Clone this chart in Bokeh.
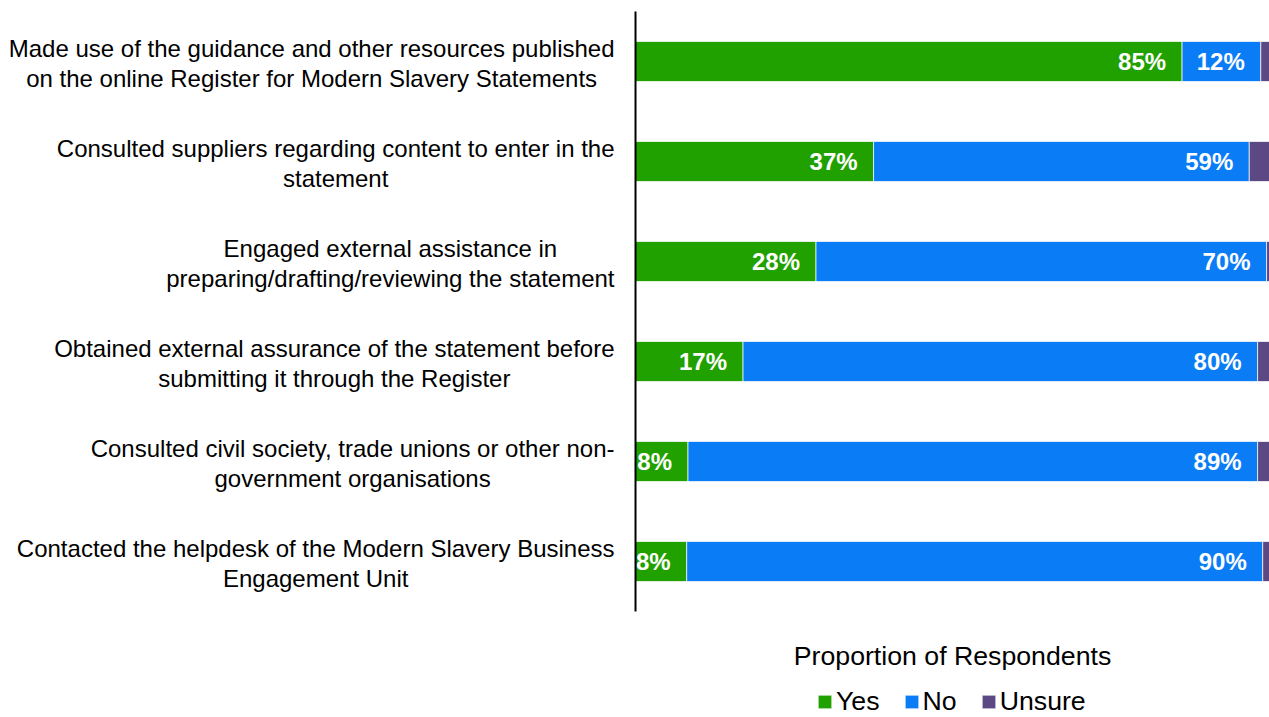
from bokeh.plotting import figure
from bokeh.models import ColumnDataSource, Range1d, Legend, LegendItem, Label
from bokeh.embed import file_html
from bokeh.resources import INLINE
from bokeh.core.properties import value

categories = [
    "Made use of the guidance and other resources published\non the online Register for Modern Slavery Statements",
    "Consulted suppliers regarding content to enter in the\nstatement",
    "Engaged external assistance in\npreparing/drafting/reviewing the statement",
    "Obtained external assurance of the statement before\nsubmitting it through the Register",
    "Consulted civil society, trade unions or other non-\ngovernment organisations",
    "Contacted the helpdesk of the Modern Slavery Business\nEngagement Unit",
]
series_names = ["Yes", "No", "Unsure"]
yes = [85.4, 37.2, 28.2, 16.8, 8.2, 8.0]
no = [12.3, 58.7, 70.4, 80.4, 89.0, 90.0]
unsure = [2.3, 4.1, 1.4, 2.8, 2.8, 2.0]
colors = ["#21A100", "#0A7CF5", "#5C4882"]
x_title = "Proportion of Respondents"

FONT = "Liberation Sans"
X_END = 99.06      # visible end of the percentage axis (chart is cropped on the right)
X_START = -99.22   # room on the left for the category labels
n = len(categories)
# category slots are 1 unit each; extra room above (0.11) and below (legend area)
Y_TOP = n - 0.5 + 0.11
Y_BOTTOM = -0.5 - 1.06

ypos = list(range(n))[::-1]   # first category at the top

p = figure(width=1269, height=717,
           y_range=Range1d(Y_BOTTOM, Y_TOP),
           x_range=Range1d(X_START, X_END),
           output_backend="svg", toolbar_location=None,
           min_border_left=0, min_border_right=0, min_border_top=0, min_border_bottom=0)
p.outline_line_color = None
p.grid.visible = False
p.yaxis.visible = False
p.xaxis.visible = False

src = ColumnDataSource(dict(y=ypos, cat=categories, yes=yes, no=no, unsure=unsure))
rs = p.hbar_stack(["yes", "no", "unsure"], y="y", height=0.4, fill_color=colors,
                  line_color="white", line_width=1, line_alpha=0.7, source=src)

# data labels for Yes and No
lab_x = yes + [a + b for a, b in zip(yes, no)]
lab_y = ypos + ypos
lab_t = [f"{round(v)}%" for v in yes] + [f"{round(v)}%" for v in no]
lsrc = ColumnDataSource(dict(x=lab_x, y=lab_y, t=lab_t))
p.text(x="x", y="y", text="t", source=lsrc, x_offset=-16, text_align="right",
       text_baseline="middle", text_color="white", text_font=value(FONT),
       text_font_style="bold", text_font_size="24px")

# category labels (left of the category axis line)
csrc = ColumnDataSource(dict(y=ypos, t=categories))
p.text(x=0, y="y", text="t", source=csrc, x_offset=-21, y_offset=2, anchor=value("center_right"),
       text_align="center", text_baseline="middle", text_color="black",
       text_font=value(FONT), text_font_size="24px", text_line_height=1.13)

# category axis line, spanning the category slots
p.segment(x0=[0], y0=[-0.5], x1=[0], y1=[n - 0.5], line_color="black", line_width=2)

# value-axis title, centred under the bars
p.add_layout(Label(x=X_END / 2, y=-0.5 - 0.44, text=x_title, text_align="center",
                   text_baseline="middle", text_font=FONT, text_font_size="26.7px",
                   text_color="black"))

legend = Legend(items=[LegendItem(label=s, renderers=[r]) for s, r in zip(series_names, rs)],
                orientation="horizontal", location=(816, 0))
legend.label_text_font = FONT
legend.label_text_font_size = "26.7px"
legend.label_text_color = "black"
legend.glyph_width = 17
legend.glyph_height = 17
legend.label_standoff = 3
legend.spacing = 23
legend.padding = 0
legend.margin = 0
legend.border_line_color = None
legend.background_fill_alpha = 0
p.add_layout(legend)

open("out.html", "w").write(file_html(p, INLINE))
